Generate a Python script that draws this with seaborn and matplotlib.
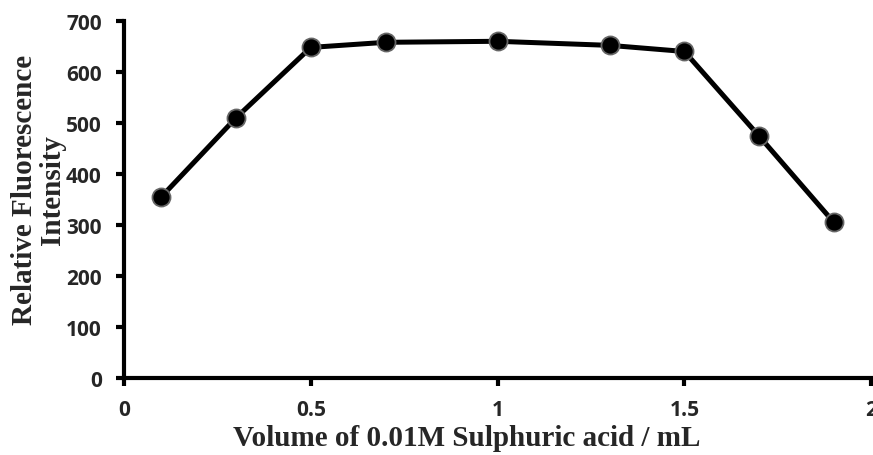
import numpy as np
import pandas as pd
import matplotlib
matplotlib.use("Agg")
import matplotlib.pyplot as plt
import seaborn as sns

# volume of acid (mL) vs fluorescence intensity
volume = [0.1, 0.3, 0.5, 0.7, 1.0, 1.3, 1.5, 1.7, 1.9]
intensity = [355, 510, 648, 658, 660, 652, 640, 474, 305]

x_ticks = [0, 0.5, 1, 1.5, 2]
x_tick_labels = ["0", "0.5", "1", "1.5", "2"]
y_ticks = [0, 100, 200, 300, 400, 500, 600, 700]

df = pd.DataFrame({"volume": volume, "intensity": intensity})

sns.set_style("ticks")
plt.rcParams['font.family'] = ['Open Sans', 'DejaVu Sans']

fig = plt.figure(figsize=(8.73, 4.56), dpi=100)
ax = fig.add_axes([0.142, 0.169, 0.856, 0.783])

sns.lineplot(data=df, x="volume", y="intensity", ax=ax, color="black",
             linewidth=3.6, marker="o", markersize=13,
             markerfacecolor="black", markeredgecolor="#666666",
             markeredgewidth=1.3)

ax.set_xlim(0, 2)
ax.set_ylim(0, 700)
ax.set_xticks(x_ticks)
ax.set_xticklabels(x_tick_labels)
ax.set_yticks(y_ticks)

for lbl in ax.get_xticklabels() + ax.get_yticklabels():
    lbl.set_fontweight('bold')
    lbl.set_fontsize(15)

ax.tick_params(axis='both', width=3, length=6, color='black')
ax.tick_params(axis='y', pad=10)
ax.tick_params(axis='x', pad=9)

sns.despine(ax=ax)
for side in ['left', 'bottom']:
    ax.spines[side].set_linewidth(3)
    ax.spines[side].set_color('black')

ax.set_xlabel("Volume of 0.01M Sulphuric acid / mL", family=['Liberation Serif'],
              fontsize=21, fontweight='bold')
ax.xaxis.set_label_coords(0.459, -0.128)
ax.set_ylabel("")
fig.text(0.044, 0.583, "Relative Fluorescence\nIntensity", family=['Liberation Serif'],
         fontsize=21, fontweight='bold', rotation=90, ha='center', va='center',
         linespacing=1.05)

fig.savefig("out.png", dpi=100)
